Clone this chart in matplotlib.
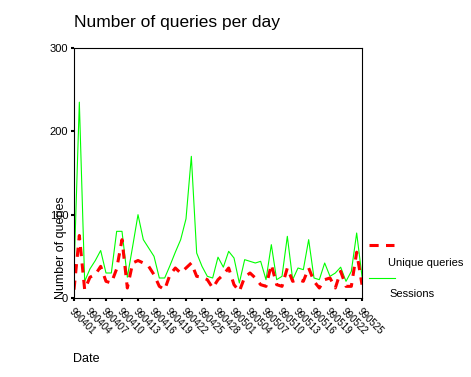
import numpy as np
import pandas as pd
from matplotlib import pyplot as plt
from matplotlib.lines import Line2D

plt.rcParams['font.family'] = ['Liberation Sans', 'DejaVu Sans']

# daily values, 1999-04-01 .. 1999-05-25
days = pd.date_range('1999-04-01', '1999-05-25', freq='D')

sessions = [30, 235, 20, 35, 45, 57, 30, 30, 80, 80,
            25, 62, 100, 70, 60, 50, 24, 24, 39, 55,
            70, 95, 170, 54, 38, 26, 24, 49, 37, 56,
            48, 18, 46, 44, 42, 44, 22, 64, 22, 26,
            74, 22, 36, 34, 70, 24, 22, 42, 26, 30,
            37, 20, 32, 78, 26]

unique_queries = [10, 75, 10, 25, 28, 38, 20, 18, 35, 70,
                  12, 42, 45, 42, 38, 28, 14, 10, 28, 36,
                  30, 36, 42, 26, 25, 22, 12, 22, 28, 36,
                  16, 8, 25, 30, 24, 16, 14, 40, 16, 14,
                  36, 20, 22, 20, 36, 20, 12, 22, 24, 12,
                  32, 14, 14, 55, 16]

tick_days = list(range(0, 55, 3))
tick_labels = [days[i].strftime('%y%m%d') for i in tick_days]

W, H = 471, 377
fig = plt.figure(figsize=(W / 100, H / 100), dpi=100)
ax = fig.add_axes([74 / W, 1 - 298 / H, (362 - 74) / W, (298 - 48) / H])

x = np.arange(len(days))
ax.plot(x, sessions, color='#00ff00', lw=0.8)
ax.plot(x, unique_queries, color='#ff0000', lw=2.2, ls=(0, (3, 2.4)),
        dash_capstyle='butt')

ax.set_xlim(0, 54)
ax.set_ylim(0, 300)
ax.set_yticks([0, 100, 200, 300])
ax.set_xticks(tick_days)
ax.set_xticklabels(tick_labels, rotation=-45, ha='left', va='top',
                   rotation_mode='anchor', fontsize=7)
ax.tick_params(axis='y', labelsize=8, length=2.2, width=1.5, pad=2)
ax.tick_params(axis='x', length=2.2, width=1.5, pad=4)
for s in ax.spines.values():
    s.set_linewidth(0.8)

fig.text(74 / W, 1 - 22 / H, 'Number of queries per day', fontsize=12.5,
         ha='left', va='center')
fig.text(61 / W, 1 - 299 / H, 'Number of queries', fontsize=9,
         rotation=90, ha='center', va='bottom')
fig.text(73 / W, 1 - 359 / H, 'Date', fontsize=9, ha='left', va='center')

# legend
fig.add_artist(Line2D([369 / W, 394 / W], [1 - 245.5 / H, 1 - 245.5 / H],
                      color='#ff0000', lw=2.2, ls=(0, (3, 2.4)),
                      dash_capstyle='butt'))
fig.text(388 / W, 1 - 263 / H, 'Unique queries', fontsize=8,
         ha='left', va='center')
fig.add_artist(Line2D([369 / W, 395 / W], [1 - 277.5 / H, 1 - 277.5 / H],
                      color='#00ff00', lw=0.8))
fig.text(389 / W, 1 - 294 / H, 'Sessions', fontsize=8,
         ha='left', va='center')

fig.savefig('out.png', dpi=100)
